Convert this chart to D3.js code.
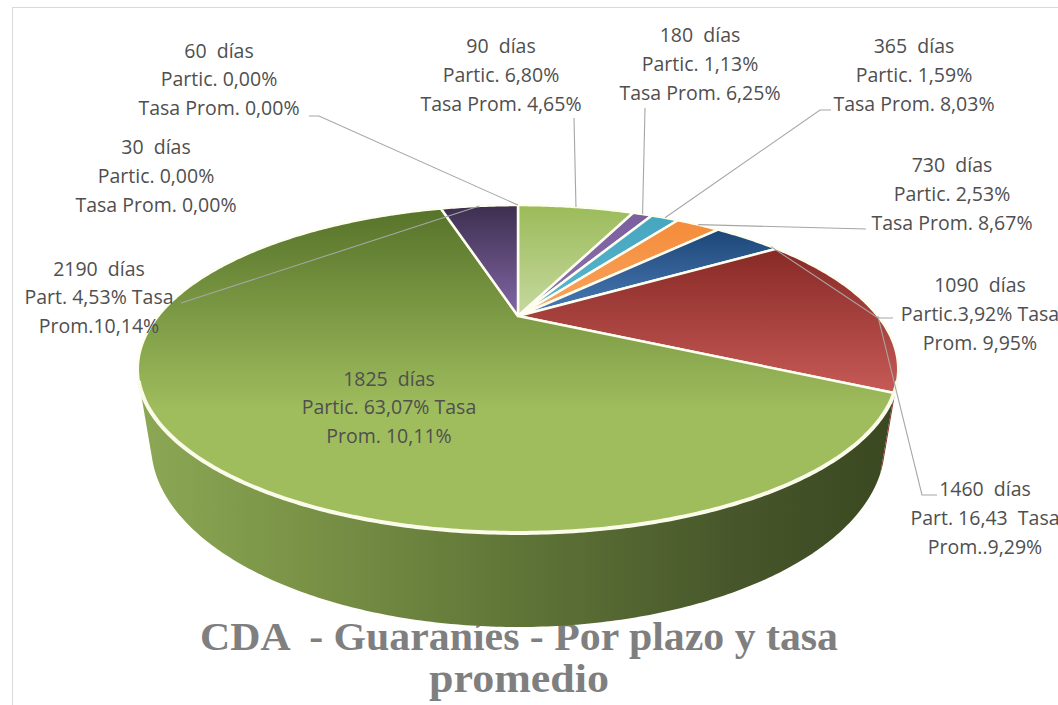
<!DOCTYPE html>
<html><head><meta charset="utf-8">
<script src="https://cdn.jsdelivr.net/npm/d3@7"></script>
<style>body{margin:0;background:#fff}svg{display:block}text{white-space:pre}</style>
</head><body>
<script>
// ---------- data ----------
const categories = ["30 días","60 días","90 días","180 días","365 días","730 días","1090 días","1460 días","1825 días","2190 días"];
const partic = [0, 0, 6.80, 1.13, 1.59, 2.53, 3.92, 16.43, 63.07, 4.53];
const tasa   = [0, 0, 4.65, 6.25, 8.03, 8.67, 9.95, 9.29, 10.11, 10.14];
const labelLines = [
  ["30  días","Partic. 0,00%","Tasa Prom. 0,00%"],
  ["60  días","Partic. 0,00%","Tasa Prom. 0,00%"],
  ["90  días","Partic. 6,80%","Tasa Prom. 4,65%"],
  ["180  días","Partic. 1,13%","Tasa Prom. 6,25%"],
  ["365  días","Partic. 1,59%","Tasa Prom. 8,03%"],
  ["730  días","Partic. 2,53%","Tasa Prom. 8,67%"],
  ["1090  días","Partic.3,92% Tasa","Prom. 9,95%"],
  ["1460  días","Part. 16,43  Tasa","Prom..9,29%"],
  ["1825  días","Partic. 63,07% Tasa","Prom. 10,11%"],
  ["2190  días","Part. 4,53% Tasa","Prom.10,14%"]
];
const titleLines = ["CDA  - Guaraníes - Por plazo y tasa", "promedio"];

// ---------- styles / layout ----------
const topDark  = ["#4f81bd","#c0504d","#9bbb59","#7a5e9e","#46a5bf","#f48c3a","#1d4677","#882926","#56732a","#3c2f4f"];
const topLight = ["#4f81bd","#c0504d","#c6d9a0","#8f75b0","#5bb8d0","#f9a560","#4a7cb8","#c65a56","#9fbd5d","#8367a6"];
const lightAt  = [1,1,1,1,1,1,1,1,0.62,1];
const sideCol  = ["#3b6394","#8e2f2c","#7d9a45","#5f4880","#3a8aa0","#c6742f","#1f3c5e","#8e2f2c",null,"#3a2d4b"];
// label layout: centre x, first baseline
const labelPos = [[156,154],[219,57.5],[501,53],[700,42],[914,53],[952,172],[980,292],[985,496],[389,385.5],[99,275.5]];
// leader lines: start points (label side), fraction of slice for anchor
const leaderStart = [null, [[309,116],[319,116]], [[574,118]], [[645,108]], [[831,110],[820,110]], [[866,229]], [[893,318],[878,318]], [[937,495],[922,495]], null, [[181,303]]];
const leaderFrac = [0.5,0.5,0.5,0.5,0.5,0.5,0.9,0.55,0.5,0.5];

const W = 1058, H = 705;
const cx = 518, cy = 316, S = 359.8;
const sE = 0.408, cE = Math.sqrt(1 - sE*sE), Dd = 2.824, Th = 0.2245;

function project(theta, Y) {
  const X = Math.sin(theta), Z = Math.cos(theta);
  const yc = Y*cE + Z*sE, zc = Dd + Z*cE - Y*sE, f = Dd/zc;
  return [cx + S*X*f, cy - S*yc*f];
}
function arcPts(a0, a1, Y) {
  const n = Math.max(2, Math.ceil(Math.abs(a1-a0)/0.01));
  return d3.range(n+1).map(i => project(a0 + (a1-a0)*i/n, Y));
}

const svg = d3.select("body").append("svg").attr("width", W).attr("height", H);
const defs = svg.append("defs");

// chart border
svg.append("rect").attr("x",12.5).attr("y",7.5).attr("width",1100).attr("height",800)
  .attr("fill","none").attr("stroke","#d9d9d9").attr("stroke-width",1);

// title (behind the pie)
const title = svg.append("g").attr("font-family","'Liberation Serif','DejaVu Serif',serif")
  .attr("font-weight","bold").attr("fill","#7f7f7f").attr("text-anchor","middle");
title.selectAll("text").data(titleLines).join("text")
  .attr("x", 519).attr("y", (d,i) => 650 + i*42).attr("font-size", 40)
  .attr("textLength", (d,i) => i === 0 ? 638 : 180).attr("lengthAdjust","spacingAndGlyphs")
  .text(d => d);

// pie layout
const arcs = d3.pie().sort(null).value(d => d)(partic);

// gradients
arcs.forEach((a, i) => {
  const g = defs.append("linearGradient").attr("id","top"+i).attr("x1",0).attr("y1",0).attr("x2",0).attr("y2",1);
  g.append("stop").attr("offset",0).attr("stop-color",topDark[i]);
  g.append("stop").attr("offset",lightAt[i]).attr("stop-color",topLight[i]);
  g.append("stop").attr("offset",1).attr("stop-color",topLight[i]);
});
const sg = defs.append("linearGradient").attr("id","sideGreen").attr("gradientUnits","userSpaceOnUse")
  .attr("x1",138).attr("y1",0).attr("x2",898).attr("y2",0);
[[0,"#8ca855"],[0.2,"#7b9447"],[0.5,"#5f7537"],[0.8,"#46552a"],[1,"#3a4720"]].forEach(s =>
  sg.append("stop").attr("offset",s[0]).attr("stop-color",s[1]));

const line = d3.line();
const thMin = Math.acos(-1/(Dd*cE)), thMax = 2*Math.PI - thMin;

// sides
const sides = svg.append("g");
arcs.forEach((a, i) => {
  const lo = Math.max(a.startAngle, thMin), hi = Math.min(a.endAngle, thMax);
  if (hi <= lo) return;
  const pts = arcPts(lo, hi, 0).concat(arcPts(hi, lo, -Th));
  sides.append("path").attr("d", line(pts) + "Z")
    .attr("fill", sideCol[i] ? sideCol[i] : "url(#sideGreen)");
});

// top faces
const tops = svg.append("g");
arcs.forEach((a, i) => {
  if (a.endAngle - a.startAngle <= 0) return;
  const pts = [[cx,cy]].concat(arcPts(a.startAngle, a.endAngle, 0));
  tops.append("path").attr("d", line(pts) + "Z")
    .attr("fill","url(#top"+i+")").attr("stroke","#fdfdf0").attr("stroke-width",2.5)
    .attr("stroke-linejoin","round");
});
// front rim highlight
svg.append("path").attr("d", line(arcPts(thMin, thMax, 0)))
  .attr("fill","none").attr("stroke","#fbfbea").attr("stroke-width",4);

// leader lines
const leaders = svg.append("g").attr("fill","none").attr("stroke","#a6a6a6").attr("stroke-width",1.1);
arcs.forEach((a, i) => {
  if (!leaderStart[i]) return;
  const th = a.startAngle + (a.endAngle - a.startAngle)*leaderFrac[i];
  const pts = leaderStart[i].concat([project(th, 0)]);
  leaders.append("path").attr("d", line(pts));
});

// labels
const labels = svg.append("g").attr("font-family","'Open Sans','Noto Sans',sans-serif")
  .attr("font-size",19.5).attr("fill","#4f4f4f").attr("text-anchor","middle");
labelLines.forEach((lines, i) => {
  const t = labels.append("text");
  lines.forEach((s, j) => {
    t.append("tspan").attr("x", labelPos[i][0]).attr("y", labelPos[i][1] + j*28.8).text(s);
  });
});
</script>
</body></html>
